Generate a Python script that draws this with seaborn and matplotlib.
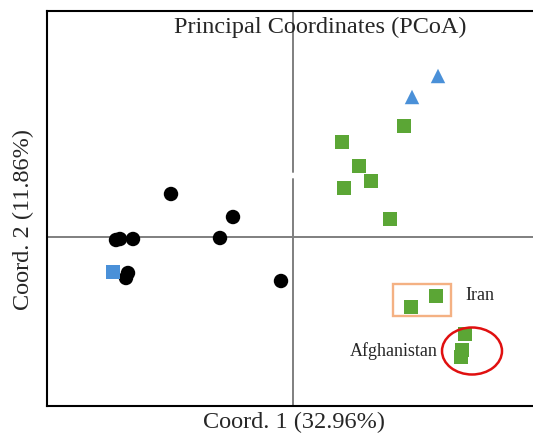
import matplotlib
matplotlib.use("Agg")
import matplotlib.pyplot as plt
from matplotlib.patches import Rectangle, Ellipse
import seaborn as sns
import pandas as pd

# PCoA scores (Coord. 1, Coord. 2) per sample group
black_x = [-1.22, -0.60, -1.77, -1.73, -1.60, -0.73, -1.65, -1.67, -0.12]
black_y = [0.43, 0.20, -0.03, -0.02, -0.02, -0.01, -0.36, -0.41, -0.44]
blue_sq_x = [-1.80]
blue_sq_y = [-0.35]
green_x = [0.49, 1.11, 0.66, 0.78, 0.51, 0.97]
green_y = [0.95, 1.11, 0.71, 0.56, 0.49, 0.18]
iran_x = [1.18, 1.43]
iran_y = [-0.70, -0.59]
afghan_x = [1.72, 1.69, 1.68]
afghan_y = [-0.97, -1.13, -1.20]
tri_x = [1.45, 1.19]
tri_y = [1.61, 1.40]

title = "Principal Coordinates (PCoA)"
xlabel = "Coord. 1 (32.96%)"
ylabel = "Coord. 2 (11.86%)"

groups = (
    [("A", x, y) for x, y in zip(black_x, black_y)]
    + [("B", x, y) for x, y in zip(blue_sq_x, blue_sq_y)]
    + [("C", x, y) for x, y in zip(green_x + iran_x + afghan_x,
                                   green_y + iran_y + afghan_y)]
    + [("D", x, y) for x, y in zip(tri_x, tri_y)]
)
df = pd.DataFrame(groups, columns=["group", "c1", "c2"])

sns.set_style("white")
plt.rcParams["font.family"] = ["Liberation Serif", "DejaVu Serif"]

fig = plt.figure(figsize=(5.33, 4.34), dpi=100)
ax = fig.add_axes([47 / 533, 28 / 434, 503 / 533, 395 / 434])
ax.set_xlim(-2.46, 2.57)
ax.set_ylim(-1.69, 2.26)

# origin cross lines (the vertical one has a small break)
grey = "#7f7f7f"
ax.axhline(0, color=grey, lw=1.4, zorder=1)
ax.axvline(0, ymin=0, ymax=0.575, color=grey, lw=1.4, zorder=1)
ax.axvline(0, ymin=0.592, ymax=1, color=grey, lw=1.4, zorder=1)

palette = {"A": "#000000", "B": "#4a90d8", "C": "#5ba635", "D": "#4a90d8"}
markers = {"A": "o", "B": "s", "C": "s", "D": "^"}
sns.scatterplot(data=df, x="c1", y="c2", hue="group", style="group",
                palette=palette, markers=markers, s=108, linewidth=0,
                legend=False, ax=ax, zorder=3)

# highlight boxes
ax.add_patch(Rectangle((1.00, -0.79), 0.58, 0.32, fill=False,
                       edgecolor="#f4b183", lw=1.7, zorder=2))
ax.add_patch(Ellipse((1.79, -1.14), 0.60, 0.47, fill=False,
                     edgecolor="#e01010", lw=1.8, zorder=4))
ax.text(1.72, -0.58, "Iran", fontsize=13, ha="left", va="center")
ax.text(1.45, -1.14, "Afghanistan", fontsize=13, ha="right", va="center")

ax.text(0.27, 2.095, title, fontsize=17.5, ha="center", va="center")

ax.set_xlabel("")
ax.set_ylabel("")
ax.set_xticks([])
ax.set_yticks([])
fig.text(294 / 533, 1 - 422 / 434, xlabel, fontsize=17.5,
         ha="center", va="center")
fig.text(23 / 533, 1 - 219 / 434, ylabel, fontsize=17.5,
         ha="center", va="center", rotation=90)

for side in ["top", "bottom", "left", "right"]:
    ax.spines[side].set_color("black")
    ax.spines[side].set_linewidth(1.5)

fig.savefig("out.png", dpi=100)
